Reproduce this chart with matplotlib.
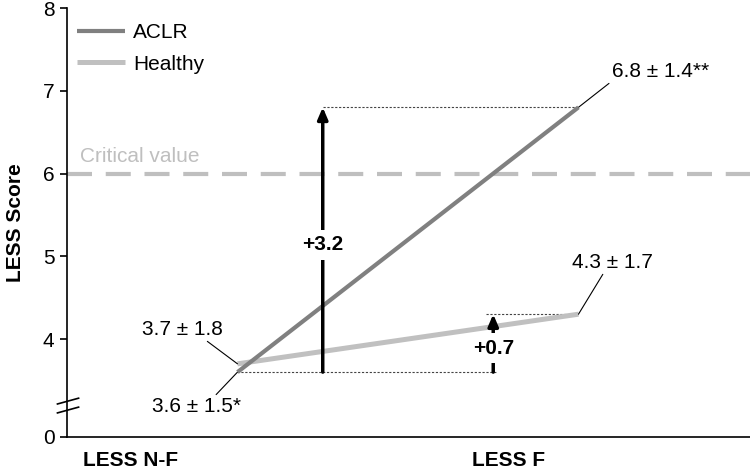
import matplotlib
matplotlib.use("Agg")
import matplotlib.pyplot as plt

plt.rcParams['font.family'] = ['Liberation Sans', 'DejaVu Sans']

# data
categories = ['LESS N-F', 'LESS F']
cat_pos = [-0.314, 0.795]          # where the category labels sit
line_x = [0, 1]                     # where the series points sit
aclr = [3.6, 6.8]
healthy = [3.7, 4.3]
aclr_lbl = ['3.6 ± 1.5*', '6.8 ± 1.4**']
healthy_lbl = ['3.7 ± 1.8', '4.3 ± 1.7']
critical = 6
ytick_vals = [2.816, 4, 5, 6, 7, 8]   # 2.816 is where "0" is drawn below the break
ytick_lbls = ['0', '4', '5', '6', '7', '8']
arrow_x = [0.25, 0.75]

fs = 15

fig = plt.figure(figsize=(7.5, 4.72), dpi=100)
ax = fig.add_axes([67/750, 35/472, 683/750, 429/472])
ax.set_xlim(-0.5, 1.503)
ax.set_ylim(2.816, 8)

for s in ['top', 'right']:
    ax.spines[s].set_visible(False)
ax.spines['left'].set_linewidth(1.2)
ax.spines['bottom'].set_linewidth(1.2)

# critical value
ax.axhline(critical, color='#bfbfbf', lw=3, dashes=(6, 3.3), zorder=1)
ax.text(-0.462, critical + 0.21, 'Critical value', color='#bfbfbf', fontsize=fs,
        va='center', ha='left')

# series
ax.plot(line_x, healthy, color='#c0c0c0', lw=3.6, label='Healthy', zorder=3,
        solid_capstyle='butt')
ax.plot(line_x, aclr, color='#808080', lw=3, label='ACLR', zorder=4,
        solid_capstyle='butt')

h, l = ax.get_legend_handles_labels()
ax.legend(h[::-1], l[::-1], loc='upper left', bbox_to_anchor=(0.0146, 0.965),
          frameon=False, fontsize=fs, handlelength=2.3, handletextpad=0.4,
          labelspacing=0.6, borderpad=0, borderaxespad=0)

# dotted guides
dot = dict(color='#444444', lw=0.8, ls=(0, (2, 1.5)), zorder=2)
ax.plot([arrow_x[0], line_x[1]], [aclr[1], aclr[1]], **dot)
ax.plot([line_x[0], arrow_x[1] + 0.012], [aclr[0], aclr[0]], **dot)
ax.plot([arrow_x[1] - 0.02, line_x[1]], [healthy[1], healthy[1]], **dot)

# change arrows
for xa, y0, y1 in [(arrow_x[0], aclr[0], aclr[1]), (arrow_x[1], aclr[0], healthy[1])]:
    ax.annotate('', xy=(xa, y1), xytext=(xa, y0),
                arrowprops=dict(arrowstyle='-|>,head_length=0.7,head_width=0.3',
                                lw=2.5, color='black', shrinkA=0, shrinkB=0),
                zorder=5)
bb = dict(facecolor='white', edgecolor='none', pad=4)
ax.text(arrow_x[0], 5.14, '+%.1f' % (aclr[1] - aclr[0]), fontsize=fs, fontweight='bold',
        ha='center', va='center', bbox=bb, zorder=6)
ax.text(arrow_x[1], 3.89, '+%.1f' % (healthy[1] - aclr[0]), fontsize=fs,
        fontweight='bold', ha='center', va='center', bbox=bb, zorder=6)

# value labels with leaders
def lab(txt, xy, xyt, rel):
    ax.annotate(txt, xy=xy, xytext=xyt, fontsize=fs, ha='center', va='center',
                arrowprops=dict(arrowstyle='-', lw=0.8, color='black',
                                shrinkA=0, shrinkB=0, relpos=rel))

lab(aclr_lbl[1], (line_x[1], aclr[1]), (1.24, 7.23), (0.0, 0.0))
lab(healthy_lbl[1], (line_x[1], healthy[1]), (1.10, 4.93), (0.4, 0.0))
lab(healthy_lbl[0], (line_x[0], healthy[0]), (-0.161, 4.12), (0.76, 0.0))
lab(aclr_lbl[0], (line_x[0], aclr[0]), (-0.12, 3.18), (0.69, 1.0))

# axes
ax.set_yticks(ytick_vals)
ax.set_yticklabels(ytick_lbls, fontsize=fs)
ax.tick_params(axis='y', length=5, width=1.2, pad=4)
ax.set_xticks(cat_pos)
ax.set_xticklabels(categories, fontsize=fs, fontweight='bold')
ax.tick_params(axis='x', length=0, pad=10)
ax.set_ylabel('LESS Score', fontsize=fs, fontweight='bold', labelpad=13)

# axis break marks
yb = 3.25
for off in [0.0, -0.108]:
    ax.plot([-0.528, -0.466], [yb - 0.035 + off, yb + 0.035 + off], color='black',
            lw=1.2, clip_on=False, zorder=6)

fig.savefig('out.png', dpi=100)
